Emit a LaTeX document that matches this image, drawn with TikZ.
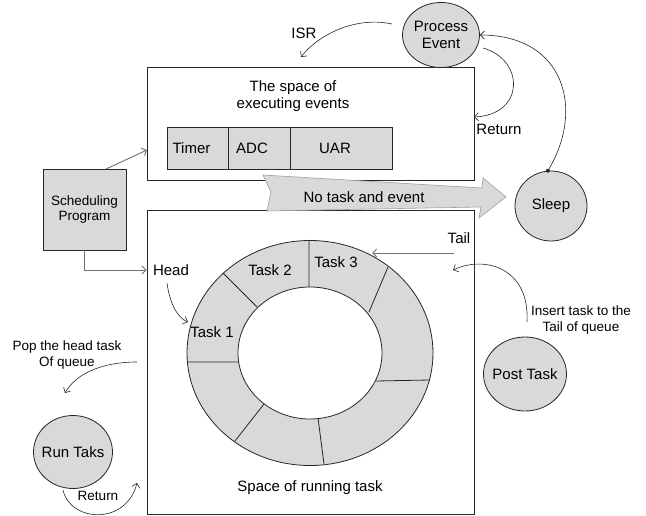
\documentclass[tikz,border=0pt]{standalone}
\usepackage{fontspec}
\setmainfont{Liberation Sans}
\usetikzlibrary{arrows.meta,shapes.geometric,calc}
\definecolor{boxgrey}{HTML}{D9D9D9}
\definecolor{edge}{HTML}{262626}
\definecolor{wire}{HTML}{707070}
\begin{document}
\begin{tikzpicture}[x=1pt,y=-1pt,
  every node/.style={font=\fontsize{15}{17}\selectfont, inner sep=0pt},
  frame/.style={draw=edge, line width=0.8pt},
  cell/.style={draw=edge, fill=boxgrey, line width=0.8pt, minimum height=42pt},
  blob/.style={ellipse, draw=edge, fill=boxgrey, line width=0.8pt},
  small/.style={font=\fontsize{13.5}{15.5}\selectfont, align=center},
  flow/.style={draw=edge, line width=0.6pt, -{Straight Barb[length=4pt,width=8pt]}},
  feed/.style={draw=wire, line width=0.9pt, -{Straight Barb[length=4pt,width=8pt]}},
]
\useasboundingbox (0,0) rectangle (646,516);

% the two spaces
\node[frame, minimum width=327pt, minimum height=113pt] (evbox) at (310.5,123.5) {};
\node[frame, minimum width=327pt, minimum height=304pt] (qbox) at (310.5,362) {};
\node[align=center] (evtitle) at (293,96.5) {The space of\\executing events};
\node (qtitle) at (310,488) {Space of running task};

% event table
\node[cell, minimum width=61pt] (timer) at (197.5,148) {Timer\kern12pt};
\node[cell, minimum width=62pt] (adc) at (259,148) {ADC\kern14pt};
\node[cell, minimum width=102pt] (uar) at (341,148) {UAR\kern12pt};

% circular task queue
\coordinate (ring) at (310,353);
\fill[boxgrey] (ring) ellipse [x radius=123pt, y radius=112.5pt];
\fill[white] (ring) ellipse [x radius=72pt, y radius=66pt];
\draw[edge, line width=0.8pt] (ring) ellipse [x radius=123pt, y radius=112.5pt];
\draw[edge, line width=0.8pt] (ring) ellipse [x radius=72pt, y radius=66pt];
\draw[edge, line width=0.8pt]
  (223,273) -- (257,307)
  (309,240) -- (309,287)
  (388,267) -- (369,312)
  (430,380) -- (376,381)
  (324,464) -- (318,418)
  (235,441) -- (264,404)
  (188,362) -- (239,362);
\node (t1) at (212,332) {Task 1};
\node (t2) at (270,270) {Task 2};
\node (t3) at (336,262) {Task 3};

% states
\node[blob, minimum width=77pt, minimum height=65pt,
      label={[align=center]center:Process\\Event}] (pe) at (441,35) {};
\node[blob, minimum width=72pt, minimum height=70pt,
      label={center:Sleep}] (sleep) at (551,206) {};
\node[blob, minimum width=83pt, minimum height=74pt,
      label={center:Post Task}] (post) at (525,374) {};
\node[blob, minimum width=79pt, minimum height=73pt,
      label={center:Run Taks}] (run) at (73,452) {};
\node[draw=edge, fill=boxgrey, line width=0.8pt, minimum width=83pt,
      minimum height=81pt, small] (sched) at (84.5,209.5) {Scheduling\\Program};

% idle transition
\draw[draw=gray!75, fill=boxgrey, line width=0.6pt]
  (263,175) -- (482,188) -- (483,178) -- (506,197) -- (479,218)
  -- (481,207) -- (267,211) -- (271,192) -- cycle;
\node (idletext) at (364,197) {No task and event};

% labels
\node (isr) at (304,33) {ISR};
\node (ret1) at (499,129) {Return};
\node (head) at (171,270) {Head};
\node (tail) at (459,238) {Tail};
\node[small] (ins) at (581,320) {Insert task to the\\Tail of queue};
\node[small] (pop) at (67,355) {Pop the head task\\Of queue};
\node[small] (ret2) at (98,496) {Return};

% connector ends
\coordinate (isrA) at (392,24);
\coordinate (isrB) at (301,57);
\coordinate (retA) at (483,48);
\coordinate (retB) at (474,117);
\coordinate (s1) at (106,169);
\coordinate (e1) at (147,150);
\coordinate (headA) at (167,283);
\coordinate (headB) at (188,322);
\coordinate (tailA) at (454,253);
\coordinate (tailB) at (372,253);
\coordinate (insA) at (527,322);
\coordinate (insB) at (453,270);
\coordinate (popA) at (137,362);
\coordinate (popB) at (65,393);
\coordinate (rtA) at (63,490);
\coordinate (rtB) at (137,483);

% connectors
\draw[flow] (isrA) .. controls (355,16) and (318,35) .. (isrB);
\draw[flow] (retA) .. controls (525,60) and (525,115) .. (retB);
\fill[edge] (sleep.95) circle (2pt);
\draw[flow] (sleep.95) .. controls (585,110) and (565,35) .. (pe.east);
\draw[feed] (s1) -- (e1);
\draw[feed] (sched.south) |- (qbox.west |- head.west);
\draw[flow] (headA) .. controls (170,305) and (178,318) .. (headB);
\draw[feed] (tailA) -- (tailB);
\draw[flow] (insA) .. controls (530,268) and (485,255) .. (insB);
\draw[flow] (popA) .. controls (100,362) and (75,375) .. (popB);
\draw[flow] (rtA) .. controls (70,522) and (126,526) .. (rtB);
\end{tikzpicture}
\end{document}
